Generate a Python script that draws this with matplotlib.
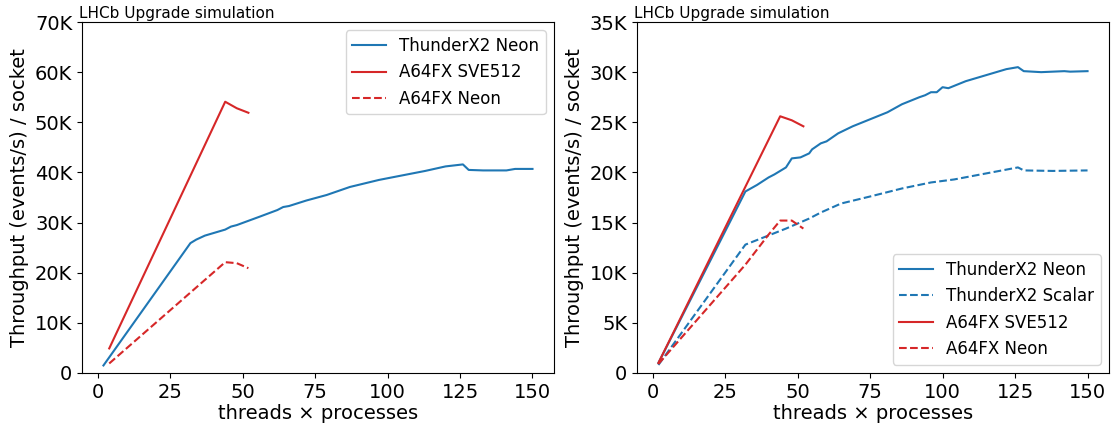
import matplotlib
matplotlib.use('Agg')
import matplotlib.pyplot as plt
from matplotlib.ticker import FuncFormatter

# left panel: throughput per socket (events/s)
tx2_neon_x_l = [2, 32, 34, 37, 44, 46, 48, 56, 62, 64, 66, 72, 79, 87, 97, 105,
                113, 120, 126, 128, 133, 141, 144, 150]
tx2_neon_y_l = [1500, 25900, 26600, 27400, 28600, 29200, 29500, 31200, 32500,
                33100, 33300, 34400, 35500, 37100, 38500, 39400, 40300, 41200,
                41600, 40500, 40400, 40400, 40700, 40700]
a64_sve_x_l = [4, 44, 48, 52]
a64_sve_y_l = [4900, 54100, 52800, 51900]
a64_neon_x_l = [4, 44, 48, 52]
a64_neon_y_l = [1900, 22100, 21900, 20900]

# right panel
tx2_neon_x_r = [2, 32, 36, 40, 42, 46, 48, 51, 54, 55, 58, 60, 64, 69, 75, 81,
                86, 92, 94, 96, 98, 100, 102, 108, 115, 122, 126, 128, 134,
                142, 144, 150]
tx2_neon_y_r = [1000, 18100, 18750, 19500, 19800, 20500, 21400, 21500, 21900,
                22300, 22900, 23100, 23900, 24600, 25300, 26000, 26800, 27500,
                27700, 28000, 28000, 28500, 28400, 29100, 29700, 30300, 30500,
                30100, 30000, 30100, 30050, 30100]
tx2_scalar_x_r = [2, 32, 39, 46, 50, 54, 58, 65, 75, 86, 96, 104, 115, 126,
                  128, 138, 150]
tx2_scalar_y_r = [800, 12800, 13600, 14400, 14900, 15400, 16000, 16900, 17600,
                  18400, 19000, 19300, 19900, 20500, 20200, 20150, 20200]
a64_sve_x_r = [2, 44, 48, 52]
a64_sve_y_r = [1000, 25600, 25200, 24600]
a64_neon_x_r = [2, 32, 40, 44, 48, 52]
a64_neon_y_r = [900, 10800, 13800, 15200, 15200, 14400]

blue = '#1f77b4'
red = '#d62728'


def kfmt(v, pos):
    if v == 0:
        return '0'
    return f'{int(round(v / 1000))}K'


fig = plt.figure(figsize=(11.11, 4.3), dpi=100)
ax1 = fig.add_axes([0.0738, 0.1326, 0.4248, 0.8162])
ax2 = fig.add_axes([0.5733, 0.1326, 0.4249, 0.8162])

ax1.plot(tx2_neon_x_l, tx2_neon_y_l, color=blue, label='ThunderX2 Neon')
ax1.plot(a64_sve_x_l, a64_sve_y_l, color=red, label='A64FX SVE512')
ax1.plot(a64_neon_x_l, a64_neon_y_l, color=red, ls='--', label='A64FX Neon')
ax1.set_ylim(0, 70000)
ax1.legend(loc='upper right', fontsize=12)

ax2.plot(tx2_neon_x_r, tx2_neon_y_r, color=blue, label='ThunderX2 Neon')
ax2.plot(tx2_scalar_x_r, tx2_scalar_y_r, color=blue, ls='--',
         label='ThunderX2 Scalar')
ax2.plot(a64_sve_x_r, a64_sve_y_r, color=red, label='A64FX SVE512')
ax2.plot(a64_neon_x_r, a64_neon_y_r, color=red, ls='--', label='A64FX Neon')
ax2.set_ylim(0, 35000)
ax2.legend(loc='lower right', fontsize=12)

for ax in (ax1, ax2):
    ax.yaxis.set_major_formatter(FuncFormatter(kfmt))
    ax.set_xticks([0, 25, 50, 75, 100, 125, 150])
    ax.tick_params(labelsize=14)
    ax.set_xlabel('threads × processes', fontsize=14, labelpad=2)
    ax.set_ylabel('Throughput (events/s) / socket', fontsize=14, labelpad=4)
    t = ax.set_title('LHCb Upgrade simulation', loc='left', fontsize=11, pad=3)
    t.set_x(-0.007)

fig.savefig('out.png', dpi=100)
